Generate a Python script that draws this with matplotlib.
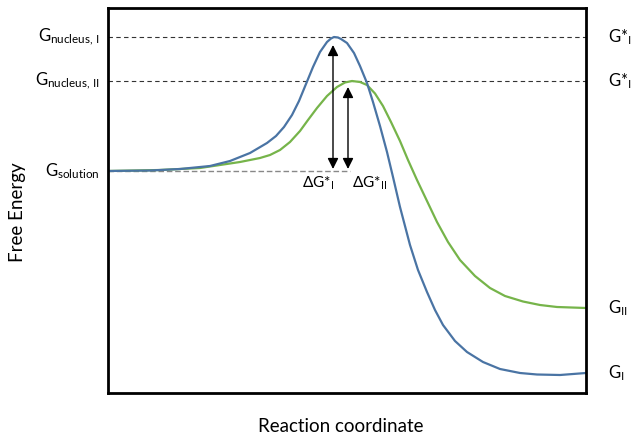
import matplotlib
matplotlib.use("Agg")
import matplotlib.pyplot as plt
from matplotlib.patches import FancyArrowPatch

plt.rcParams['font.family'] = ['Lato', 'DejaVu Sans']
plt.rcParams['mathtext.fontset'] = 'custom'
plt.rcParams['mathtext.rm'] = 'Lato'
plt.rcParams['mathtext.it'] = 'Lato'
plt.rcParams['mathtext.bf'] = 'Lato:bold'

# Reaction coordinate (arbitrary units) and free energy (arbitrary units)
coord_I = [0, 42, 72, 102, 122, 142, 159, 168, 176, 184, 191, 198, 205, 212, 219, 223,
           226, 230, 233, 239, 246, 252, 259, 265, 272, 279, 285, 292, 302, 310, 319,
           327, 335, 347, 359, 375, 392, 412, 429, 452, 478]
energy_I = [222, 222.5, 224, 227, 232, 240, 250, 257, 266, 278, 292, 309, 326, 341, 351, 354.5,
            356, 355.5, 354, 350, 340, 327, 310, 291, 267, 241, 216, 186, 148, 123, 101,
            83, 68, 52, 41, 31, 24, 20, 18.5, 18, 20]

coord_II = [0, 52, 92, 132, 152, 162, 172, 182, 192, 200, 209, 219, 229, 237, 244, 252,
            259, 267, 275, 283, 292, 300, 309, 319, 329, 340, 352, 367, 382, 397, 415,
            432, 449, 478]
energy_II = [222, 223, 225, 231, 235, 238, 243, 251, 262, 273, 285, 297, 306, 310.5, 312, 311,
             308, 299.5, 287, 271, 252, 233, 213, 192, 171, 151, 133, 117, 105, 97, 91.5,
             88, 86, 85]

G_nucleus_I = 356
G_nucleus_II = 312
G_solution = 222

left_labels = [(G_nucleus_I, r'G$_{\mathrm{nucleus,\,I}}$'),
               (G_nucleus_II, r'G$_{\mathrm{nucleus,\,II}}$'),
               (G_solution, r'G$_{\mathrm{solution}}$')]
right_labels = [(G_nucleus_I, r'G*$_{\mathrm{I}}$'),
                (G_nucleus_II, r'G*$_{\mathrm{I}}$'),
                (energy_II[-1], r'G$_{\mathrm{II}}$'),
                (energy_I[-1], r'G$_{\mathrm{I}}$')]

arrow_x = [225, 240]
arrow_top = [G_nucleus_I - 8, G_nucleus_II - 6]
delta_labels = [r'$\Delta$G*$_{\mathrm{I}}$', r'$\Delta$G*$_{\mathrm{II}}$']

blue = '#4a74a4'
green = '#76b44a'

fig = plt.figure(figsize=(6.33, 4.38), dpi=100)
ax = fig.add_axes([108/633, 45/438, 478/633, 385/438])
ax.set_xlim(0, 478)
ax.set_ylim(0, 385)

ax.axhline(G_nucleus_I, color='#333333', lw=0.8, ls=(0, (4, 3)))
ax.axhline(G_nucleus_II, color='#333333', lw=0.8, ls=(0, (4, 3)))
ax.plot([0, 242], [G_solution, G_solution], color='#888888', lw=1.0, ls=(0, (4, 2)), zorder=1)

ax.plot(coord_II, energy_II, color=green, lw=1.6, solid_capstyle='round', solid_joinstyle='round')
ax.plot(coord_I, energy_I, color=blue, lw=1.6, solid_capstyle='round', solid_joinstyle='round')

for x, top in zip(arrow_x, arrow_top):
    a = FancyArrowPatch((x, G_solution + 2), (x, top), arrowstyle='<|-|>',
                        mutation_scale=16, color='black', lw=1.0, shrinkA=0, shrinkB=0, zorder=5)
    ax.add_patch(a)

ax.text(210, G_solution - 12, delta_labels[0], ha='center', va='center', fontsize=11)
ax.text(262, G_solution - 12, delta_labels[1], ha='center', va='center', fontsize=11)

for e, lab in left_labels:
    ax.text(-8, e, lab, ha='right', va='center', fontsize=12, clip_on=False)
for e, lab in right_labels:
    ax.text(500, e, lab, ha='left', va='center', fontsize=12, clip_on=False)

for s in ax.spines.values():
    s.set_linewidth(2.0)
    s.set_color('black')
ax.set_xticks([])
ax.set_yticks([])

fig.text(18/633, 1 - 212/438, 'Free Energy', rotation=90, ha='center', va='center', fontsize=13.5)
fig.text(341/633, 1 - 427/438, 'Reaction coordinate', ha='center', va='center', fontsize=13.5)

fig.savefig('out.png', dpi=100)
